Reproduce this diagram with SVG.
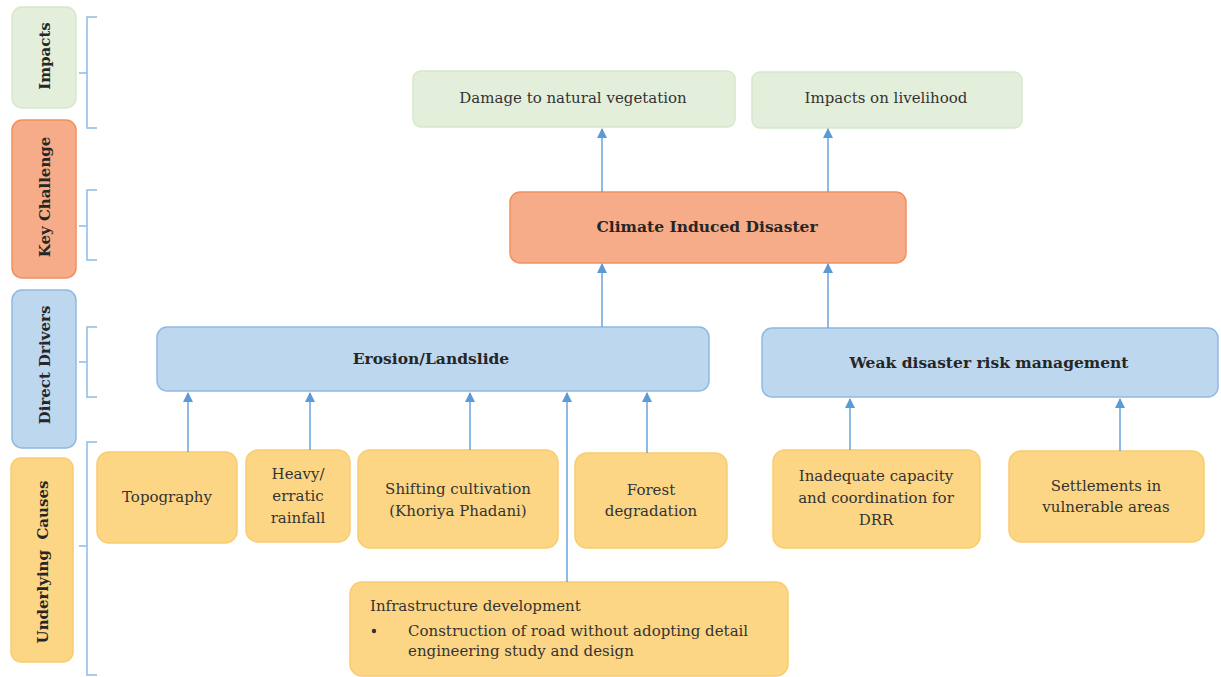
<svg xmlns="http://www.w3.org/2000/svg" width="1221" height="677" viewBox="0 0 1221 677">
  <style>
    .t { font-family: "DejaVu Serif", "Liberation Serif", serif; font-size: 15px; fill: #333333; }
    .b { font-family: "DejaVu Serif", "Liberation Serif", serif; font-size: 15.5px; font-weight: bold; fill: #262626; }
    .v { font-family: "DejaVu Serif", "Liberation Serif", serif; font-size: 15px; font-weight: bold; fill: #262626; white-space: pre; }
    .green { fill: #e3efdb; stroke: #d6e8cb; stroke-width: 1.5; }
    .salmon { fill: #f6ac88; stroke: #f0905f; stroke-width: 1.5; }
    .blue { fill: #bdd7ee; stroke: #8fb9e2; stroke-width: 1.5; }
    .yellow { fill: #fdd685; stroke: #f9cc6c; stroke-width: 1.5; }
    .bracket { fill: none; stroke: #8fbbe6; stroke-width: 1.5; }
    .link { fill: none; stroke: #6aa3da; stroke-width: 1.5; }
  </style>
  <defs>
    <marker id="arrow" viewBox="0 0 10 10" refX="9" refY="5" markerWidth="10" markerHeight="10" markerUnits="userSpaceOnUse" orient="auto">
      <path d="M0,0 L10,5 L0,10 z" fill="#5b9bd5"/>
    </marker>
  </defs>
  <rect width="1221" height="677" fill="#ffffff"/>

  <!-- level labels -->
  <g id="label-impacts">
    <rect x="12" y="7" width="64" height="101" rx="10" class="green"/>
    <text class="v" transform="translate(50,56) rotate(-90)" text-anchor="middle">Impacts</text>
  </g>
  <g id="label-key-challenge">
    <rect x="12" y="120" width="64" height="158" rx="10" class="salmon"/>
    <text class="v" transform="translate(50,197) rotate(-90)" text-anchor="middle">Key Challenge</text>
  </g>
  <g id="label-direct-drivers">
    <rect x="12" y="290" width="64" height="158" rx="10" class="blue"/>
    <text class="v" transform="translate(50,365) rotate(-90)" text-anchor="middle">Direct Drivers</text>
  </g>
  <g id="label-underlying-causes">
    <rect x="11" y="458" width="62" height="204" rx="10" class="yellow"/>
    <text class="v" transform="translate(48,562) rotate(-90)" text-anchor="middle">Underlying  Causes</text>
  </g>

  <!-- brackets -->
  <g id="brackets">
    <path class="bracket" d="M97,17 H87 V128 H97 M87,73 H79"/>
    <path class="bracket" d="M97,190 H87 V260 H97 M87,226 H79"/>
    <path class="bracket" d="M97,327 H87 V397 H97 M87,362 H79"/>
    <path class="bracket" d="M97,442 H87 V675 H97 M87,546 H79"/>
  </g>

  <!-- impacts -->
  <g id="damage-vegetation">
    <rect x="413" y="71" width="322" height="56" rx="8" class="green"/>
    <text class="t" x="573" y="103" text-anchor="middle">Damage to natural vegetation</text>
  </g>
  <g id="impacts-livelihood">
    <rect x="752" y="72" width="270" height="56" rx="8" class="green"/>
    <text class="t" x="886" y="103" text-anchor="middle">Impacts on livelihood</text>
  </g>

  <!-- key challenge -->
  <g id="climate-disaster">
    <rect x="510" y="192" width="396" height="71" rx="10" class="salmon"/>
    <text class="b" x="707" y="232" text-anchor="middle">Climate Induced Disaster</text>
  </g>

  <!-- direct drivers -->
  <g id="erosion-landslide">
    <rect x="157" y="327" width="552" height="64" rx="10" class="blue"/>
    <text class="b" x="431" y="364" text-anchor="middle">Erosion/Landslide</text>
  </g>
  <g id="weak-drm">
    <rect x="762" y="328" width="456" height="69" rx="10" class="blue"/>
    <text class="b" x="989" y="368" text-anchor="middle">Weak disaster risk management</text>
  </g>

  <!-- underlying causes -->
  <g id="topography">
    <rect x="97" y="452" width="140" height="91" rx="12" class="yellow"/>
    <text class="t" x="167" y="502" text-anchor="middle">Topography</text>
  </g>
  <g id="rainfall">
    <rect x="246" y="450" width="104" height="92" rx="12" class="yellow"/>
    <text class="t" x="298" y="479" text-anchor="middle">Heavy/</text>
    <text class="t" x="298" y="501" text-anchor="middle">erratic</text>
    <text class="t" x="298" y="523" text-anchor="middle">rainfall</text>
  </g>
  <g id="shifting-cultivation">
    <rect x="358" y="450" width="200" height="98" rx="12" class="yellow"/>
    <text class="t" x="458" y="494" text-anchor="middle">Shifting cultivation</text>
    <text class="t" x="458" y="516" text-anchor="middle">(Khoriya Phadani)</text>
  </g>
  <g id="forest-degradation">
    <rect x="575" y="453" width="152" height="95" rx="12" class="yellow"/>
    <text class="t" x="651" y="495" text-anchor="middle">Forest</text>
    <text class="t" x="651" y="516" text-anchor="middle">degradation</text>
  </g>
  <g id="drr-capacity">
    <rect x="773" y="450" width="207" height="98" rx="12" class="yellow"/>
    <text class="t" x="876" y="481" text-anchor="middle">Inadequate capacity</text>
    <text class="t" x="876" y="503" text-anchor="middle">and coordination for</text>
    <text class="t" x="876" y="525" text-anchor="middle">DRR</text>
  </g>
  <g id="settlements">
    <rect x="1009" y="451" width="195" height="91" rx="12" class="yellow"/>
    <text class="t" x="1106" y="491" text-anchor="middle">Settlements in</text>
    <text class="t" x="1106" y="512" text-anchor="middle">vulnerable areas</text>
  </g>
  <g id="infrastructure">
    <rect x="350" y="582" width="438" height="94" rx="12" class="yellow"/>
    <text class="t" x="370" y="611">Infrastructure development</text>
    <circle cx="374" cy="631" r="2.2" fill="#333333"/>
    <text class="t" x="408" y="636">Construction of road without adopting detail</text>
    <text class="t" x="408" y="656">engineering study and design</text>
  </g>

  <!-- connectors -->
  <g id="connectors">
    <line class="link" x1="602" y1="192" x2="602" y2="129" marker-end="url(#arrow)"/>
    <line class="link" x1="828" y1="192" x2="828" y2="129" marker-end="url(#arrow)"/>
    <line class="link" x1="602" y1="327" x2="602" y2="264" marker-end="url(#arrow)"/>
    <line class="link" x1="828" y1="328" x2="828" y2="264" marker-end="url(#arrow)"/>
    <line class="link" x1="188" y1="452" x2="188" y2="393" marker-end="url(#arrow)"/>
    <line class="link" x1="310" y1="450" x2="310" y2="393" marker-end="url(#arrow)"/>
    <line class="link" x1="470" y1="450" x2="470" y2="393" marker-end="url(#arrow)"/>
    <line class="link" x1="567" y1="582" x2="567" y2="393" marker-end="url(#arrow)"/>
    <line class="link" x1="647" y1="453" x2="647" y2="393" marker-end="url(#arrow)"/>
    <line class="link" x1="850" y1="450" x2="850" y2="399" marker-end="url(#arrow)"/>
    <line class="link" x1="1120" y1="451" x2="1120" y2="399" marker-end="url(#arrow)"/>
  </g>
</svg>
